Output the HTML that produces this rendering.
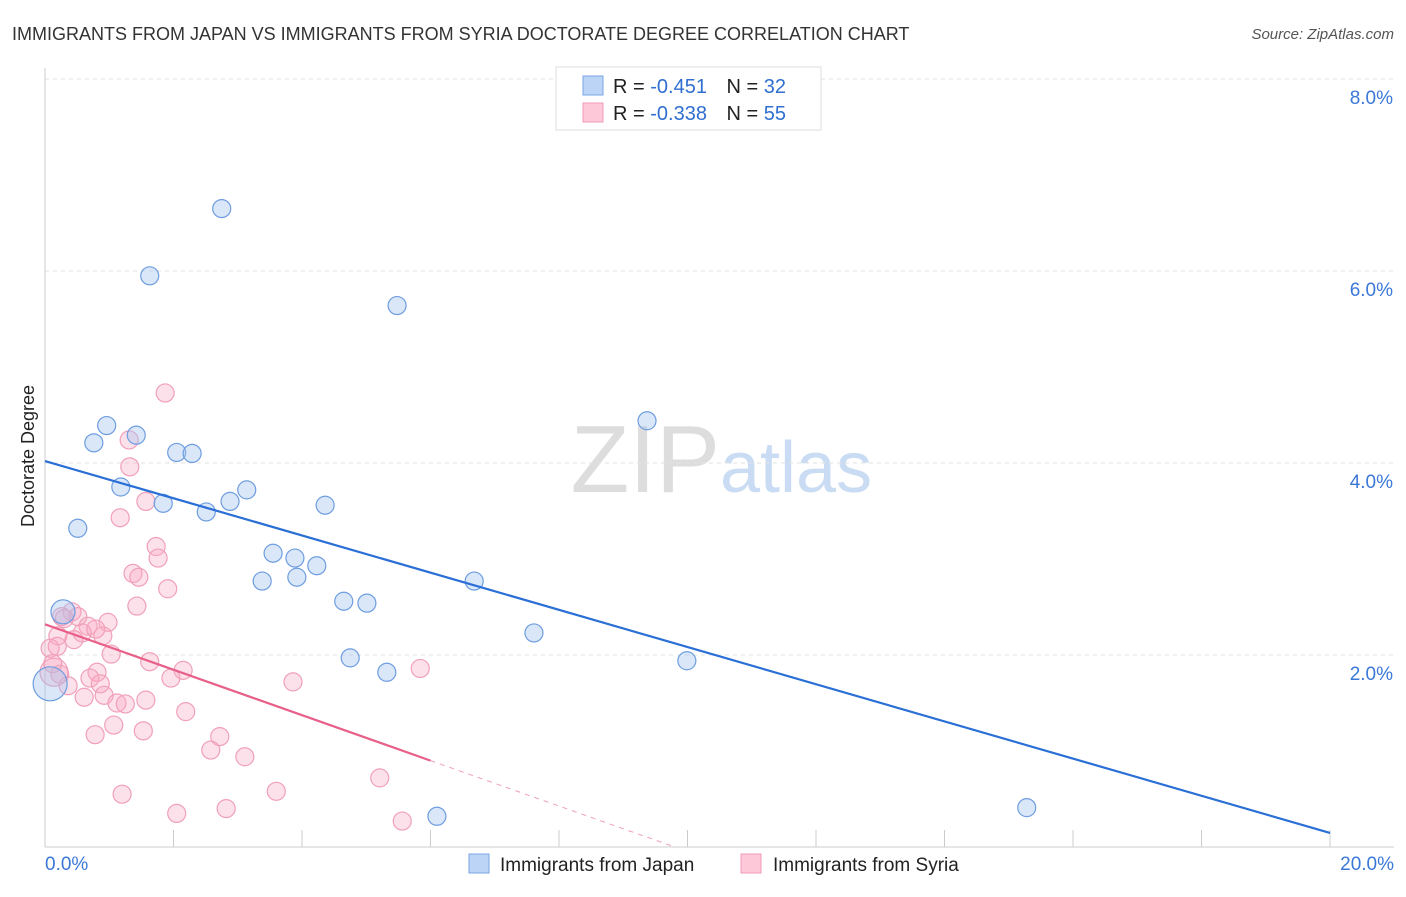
<!DOCTYPE html>
<html><head><meta charset="utf-8"><style>
body{margin:0;background:#fff;font-family:"Liberation Sans",sans-serif;}
svg text{font-family:"Liberation Sans",sans-serif;}
</style></head><body>
<svg id="c" width="1406" height="892">
<text x="12" y="40" font-size="18" fill="#333">IMMIGRANTS FROM JAPAN VS IMMIGRANTS FROM SYRIA DOCTORATE DEGREE CORRELATION CHART</text>
<text x="1394" y="39" font-size="15" fill="#555" font-style="italic" text-anchor="end">Source: ZipAtlas.com</text>
<text x="720" y="492" font-size="96" fill="#ddd" text-anchor="end" font-family="Liberation Serif">ZIP</text>
<text x="720" y="492" font-size="72" fill="#c9dcf3">atlas</text>
<text x="34" y="456" font-size="18" fill="#222" text-anchor="middle" transform="rotate(-90 34 456)">Doctorate Degree</text>
<g id="grid"></g><g id="marks"></g>
<g>
<rect x="556" y="67" width="265" height="63" fill="#fff" stroke="#ddd"/>
<rect x="583" y="76" width="20" height="19" fill="#bcd4f5" stroke="#7aa5e6"/>
<rect x="583" y="103" width="20" height="19" fill="#fdc9d8" stroke="#f09ab5"/>
<text x="613" y="93" font-size="20" fill="#222">R = <tspan fill="#2f6fd0">-0.451</tspan>  <tspan dx="14">N = </tspan><tspan fill="#2f6fd0">32</tspan></text>
<text x="613" y="120" font-size="20" fill="#222">R = <tspan fill="#2f6fd0">-0.338</tspan>  <tspan dx="14">N = </tspan><tspan fill="#2f6fd0">55</tspan></text>
</g>
<g>
<rect x="469" y="854" width="20" height="19" fill="#bcd4f5" stroke="#7aa5e6"/>
<text x="500" y="871" font-size="19" fill="#222">Immigrants from Japan</text>
<rect x="741" y="854" width="20" height="19" fill="#fdc9d8" stroke="#f09ab5"/>
<text x="773" y="871" font-size="19" fill="#222">Immigrants from Syria</text>
</g>
</svg>
<script>
const yTicks=[2,4,6,8];
const xTickLabels=["0.0%","20.0%"];
const japanX=[2.75,1.63,5.48,9.37,0.96,0.76,1.42,2.05,2.29,1.18,3.14,2.88,1.84,4.36,2.51,0.51,3.55,3.89,4.23,3.92,3.38,6.68,4.65,5.01,0.28,7.61,4.75,9.99,5.32,0.08,6.10,15.28];
const japanY=[6.65,5.95,5.64,4.44,4.39,4.21,4.29,4.11,4.10,3.75,3.72,3.60,3.58,3.56,3.49,3.32,3.06,3.01,2.93,2.81,2.77,2.77,2.56,2.54,2.45,2.23,1.97,1.94,1.82,1.70,0.32,0.41];
const syriaX=[1.87,1.31,1.32,1.57,1.17,1.73,1.76,1.37,1.46,1.91,1.43,0.42,0.51,0.98,0.67,0.20,0.58,0.90,0.45,0.08,0.19,1.03,1.63,2.15,0.81,5.84,0.23,0.70,1.96,0.86,3.86,0.36,0.92,0.61,1.57,1.12,1.25,2.19,1.07,1.53,0.78,2.72,2.58,3.11,5.21,1.20,3.60,2.82,2.05,5.56,0.14,0.12,0.26,0.79,0.30];
const syriaY=[4.73,4.24,3.96,3.60,3.43,3.13,3.01,2.85,2.81,2.69,2.51,2.45,2.40,2.34,2.30,2.20,2.23,2.20,2.16,2.07,2.09,2.01,1.93,1.84,1.82,1.86,1.80,1.76,1.76,1.70,1.72,1.68,1.58,1.56,1.53,1.50,1.49,1.41,1.27,1.21,1.17,1.15,1.01,0.94,0.72,0.55,0.58,0.40,0.35,0.27,1.82,1.91,2.40,2.27,2.38];
const japanTrend=[4.02,0.146];
const syriaTrend=[2.32,0.90,6];
const X=v=>45+v*64.25, Y=v=>847-v*96;
const ns="http://www.w3.org/2000/svg";
function mk(p,t,a){const e=document.createElementNS(ns,t);for(const k in a)e.setAttribute(k,a[k]);p.appendChild(e);return e;}
const g=document.getElementById('grid'),m=document.getElementById('marks');
yTicks.forEach(t=>{const l=mk(g,'line',{x1:45,x2:1394,y1:Y(t),y2:Y(t),stroke:'#e2e2e2','stroke-dasharray':'4,4'});

const tx=mk(g,'text',{x:1393,y:Y(t)+25,'font-size':19,fill:'#3b78d8','text-anchor':'end'});tx.textContent=t.toFixed(1)+'%';
});
const tl=mk(g,'line',{x1:45,x2:1394,y1:Y(8),y2:Y(8),stroke:'#e2e2e2','stroke-dasharray':'4,4'});
const ya=mk(g,'line',{x1:45,x2:45,y1:68,y2:847,stroke:'#ccc'});
const xa=mk(g,'line',{x1:45,x2:1394,y1:847,y2:847,stroke:'#ccc'});
for(let i=0;i<=10;i++){const t=mk(g,'line',{x1:X(i*2),x2:X(i*2),y1:830,y2:847,stroke:'#ccc'});}
const xl0=mk(g,'text',{x:45,y:870,'font-size':19,fill:'#3b78d8'});xl0.textContent=xTickLabels[0];
const xl1=mk(g,'text',{x:1394,y:870,'font-size':19,fill:'#3b78d8','text-anchor':'end'});xl1.textContent=xTickLabels[1];
syriaX.forEach((x,i)=>{const r=(i==50)?14:9;const c=mk(m,'circle',{cx:X(x),cy:Y(syriaY[i]),r:r,fill:'rgba(248,170,195,0.35)',stroke:'#f0a0b9','stroke-width':1.2});
});
japanX.forEach((x,i)=>{const r=(i==29)?17:(i==24?12:9);const c=mk(m,'circle',{cx:X(x),cy:Y(japanY[i]),r:r,fill:'rgba(160,195,240,0.4)',stroke:'#6e9de0','stroke-width':1.2});
});
const jt=mk(m,'line',{x1:X(0),y1:Y(japanTrend[0]),x2:X(20),y2:Y(japanTrend[1]),stroke:'#2a6fd6','stroke-width':2.2});

const s0=syriaTrend[0],s1=syriaTrend[1],sx=syriaTrend[2],slope=(s1-s0)/sx;
const st=mk(m,'line',{x1:X(0),y1:Y(s0),x2:X(sx),y2:Y(s1),stroke:'#e8608a','stroke-width':2.2});

const xe=-s0/slope;
const sd=mk(m,'line',{x1:X(sx),y1:Y(s1),x2:X(xe),y2:Y(0),stroke:'#f0a0b9','stroke-width':1,'stroke-dasharray':'5,5'});

</script>
</body></html>
